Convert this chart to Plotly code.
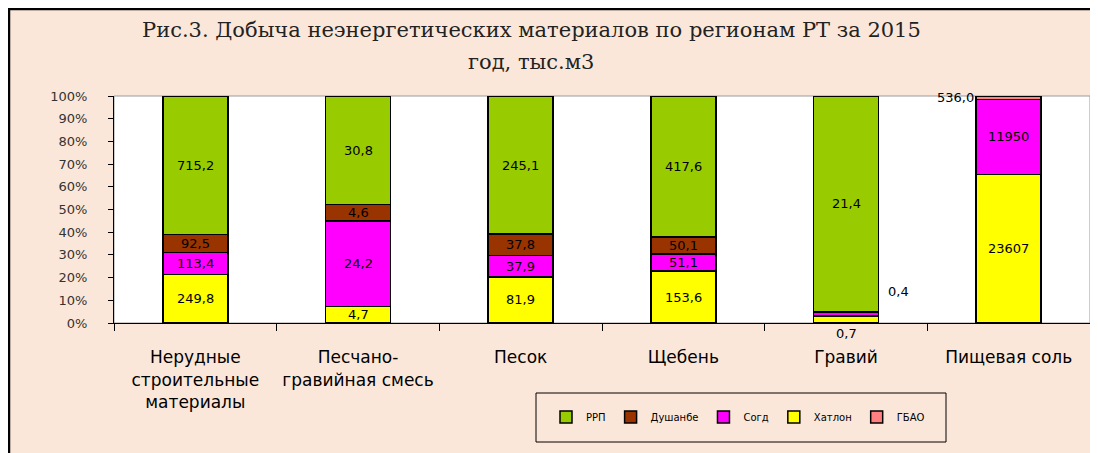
import plotly.graph_objects as go

# ---------------- data ----------------
categories = ["Нерудные<br>строительные<br>материалы", "Песчано-<br>гравийная смесь",
              "Песок", "Щебень", "Гравий", "Пищевая соль"]
regions = ["РРП", "Душанбе", "Согд", "Хатлон", "ГБАО"]
rrp      = [715.2, 30.8, 245.1, 417.6, 21.4, 0]
dushanbe = [92.5, 4.6, 37.8, 50.1, 0, 0]
sogd     = [113.4, 24.2, 37.9, 51.1, 0.4, 11950]
khatlon  = [249.8, 4.7, 81.9, 153.6, 0.7, 23607]
gbao     = [0, 0, 0, 0, 0, 536.0]
y_ticks = list(range(0, 101, 10))
title_lines = ["Рис.3. Добыча неэнергетических материалов по регионам РТ за 2015", "год, тыс.м3"]

# ---------------- styles ----------------
colors = {"РРП": "#99CC00", "Душанбе": "#993300", "Согд": "#FF00FF",
          "Хатлон": "#FFFF00", "ГБАО": "#FF8080"}
rank = {"РРП": 1, "Душанбе": 2, "Согд": 3, "Хатлон": 4, "ГБАО": 5}
series = {"РРП": rrp, "Душанбе": dushanbe, "Согд": sogd, "Хатлон": khatlon, "ГБАО": gbao}
stack_order = ["Хатлон", "Согд", "Душанбе", "РРП", "ГБАО"]
outside_offsets = {("Согд", 4): (52, 22, "center"),
                   ("Хатлон", 4): (0, -14, "center"),
                   ("ГБАО", 5): (-33, 0, "right")}

PEACH = "#FBE7D9"
OFF = 8                      # page body margin
W, H = 1098 - OFF, 453 - OFF
# plot area in page pixels
PL, PR, PT, PB = 114, 1090, 96, 323
L, R, T, B = PL - OFF, PR - OFF, PT - OFF, PB - OFF


def xp(px):  # page px -> paper
    return (px - OFF - L) / (R - L)


def yp(py):
    return (B - (py - OFF)) / (B - T)


def fmt(v):
    return f"{v:.0f}" if v >= 10000 else f"{v:.1f}".replace(".", ",")


fig = go.Figure()
for name in stack_order:
    fig.add_trace(go.Bar(
        x=categories, y=series[name], name=name, legendrank=rank[name],
        marker=dict(color=colors[name], line=dict(color="black", width=1.5)),
    ))

# data labels
annotations = []
totals = [sum(series[n][i] for n in stack_order) for i in range(len(categories))]
for i, cat in enumerate(categories):
    cum = 0.0
    for name in stack_order:
        v = series[name][i]
        share = v / totals[i] * 100
        mid = cum + share / 2
        cum += share
        if v == 0:
            continue
        a = dict(x=cat, y=mid, xref="x", yref="y", text=fmt(v), showarrow=False,
                 font=dict(family="DejaVu Sans", size=13, color="black"))
        if share < 4:
            dx, dy, anch = outside_offsets.get((name, i), (40, 0, "left"))
            a.update(xshift=dx, yshift=dy, xanchor=anch)
        annotations.append(a)

# title
for line, py in zip(title_lines, [30, 62]):
    annotations.append(dict(x=xp(531), y=yp(py), xref="paper", yref="paper", text=line,
                            xanchor="center", yanchor="middle", showarrow=False,
                            font=dict(family="DejaVu Serif", size=21, color="#222")))

shapes = [
    dict(type="rect", xref="paper", yref="paper", x0=xp(9), x1=xp(1130), y0=yp(9), y1=yp(490),
         fillcolor=PEACH, line=dict(color="black", width=2.5), layer="below"),
    dict(type="rect", xref="paper", yref="paper", x0=0, x1=1, y0=0, y1=1,
         fillcolor="white", line=dict(color="#9a9a9a", width=1), layer="below"),
    dict(type="rect", xref="paper", yref="paper", x0=xp(536), x1=xp(946), y0=yp(393), y1=yp(442),
         fillcolor=PEACH, line=dict(color="black", width=1), layer="below"),
]

fig.update_layout(
    width=W, height=H,
    margin=dict(l=L, r=W - R, t=T, b=H - B),
    barmode="stack", barnorm="percent", bargap=0.6,
    paper_bgcolor="white", plot_bgcolor="white",
    showlegend=True,
    legend=dict(orientation="h", x=xp(738), y=yp(417), xanchor="center", yanchor="middle",
                bgcolor="rgba(0,0,0,0)", font=dict(family="DejaVu Sans", size=10, color="black"),
                itemwidth=30, traceorder="normal"),
    annotations=annotations,
    shapes=shapes,
    xaxis=dict(showline=True, linecolor="black", linewidth=1, ticks="outside", ticklen=7,
               tickcolor="black", tickson="boundaries", showgrid=False, ticklabelstandoff=19,
               tickfont=dict(family="DejaVu Sans", size=17, color="black")),
    yaxis=dict(range=[0, 100], tickvals=y_ticks, ticktext=[f"{t}%" for t in y_ticks],
               showline=True, linecolor="black", linewidth=1, ticks="outside", ticklen=5,
               tickcolor="black", showgrid=False, zeroline=False, ticklabelstandoff=18,
               tickfont=dict(family="DejaVu Sans", size=13, color="#333")),
)

fig.write_html("out.html")
